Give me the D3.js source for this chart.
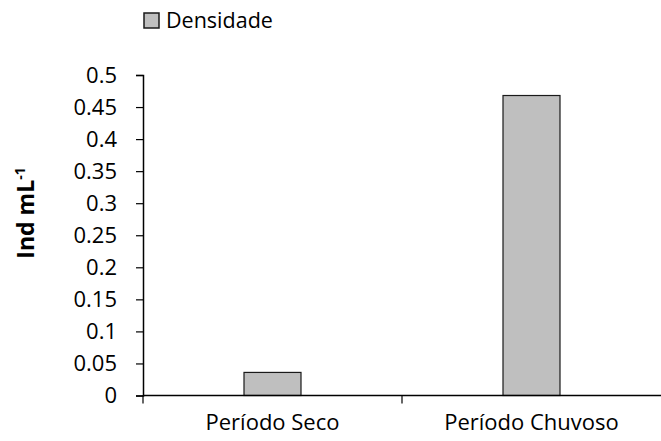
<!DOCTYPE html>
<html><head><meta charset="utf-8">
<script src="https://d3js.org/d3.v7.min.js"></script>
<style>body{margin:0;background:#fff;} text{font-family:"Open Sans", sans-serif;fill:#000;}</style>
</head><body>
<svg id="c" width="661" height="441"></svg>
<script>
const categories = ["Período Seco", "Período Chuvoso"];
const densidade = [0.036, 0.468];
const yTicks = [0, 0.05, 0.1, 0.15, 0.2, 0.25, 0.3, 0.35, 0.4, 0.45, 0.5];
const seriesName = "Densidade";

const FONT = "'Open Sans', sans-serif";
const svg = d3.select("#c");
const m = {l:143, r:661, t:75, b:395.5};
const x = d3.scaleBand().domain(categories).range([m.l, m.r]).paddingInner(0).paddingOuter(0);
const y = d3.scaleLinear().domain([0, 0.5]).range([m.b, m.t]);
const barW = 57;

svg.selectAll("rect.bar").data(densidade).enter().append("rect")
  .attr("x", (d,i) => x(categories[i]) + x.bandwidth()/2 - barW/2)
  .attr("y", d => y(d))
  .attr("width", barW)
  .attr("height", d => y(0) - y(d))
  .attr("fill", "#bfbfbf").attr("stroke", "#1a1a1a").attr("stroke-width", 1.2);

const ya = svg.append("g").attr("transform", `translate(${m.l},0)`)
  .call(d3.axisLeft(y).tickValues(yTicks).tickFormat(d => String(d)).tickSize(7).tickPadding(19));
ya.select(".domain").attr("stroke", "#000").attr("stroke-width", 1.5);
ya.selectAll(".tick line").attr("stroke", "#000").attr("stroke-width", 1.2);
ya.selectAll("text").style("font-size", "22px").style("font-family", FONT);

const xa = svg.append("g").attr("transform", `translate(0,${m.b})`)
  .call(d3.axisBottom(x).tickSize(0).tickPadding(19));
xa.select(".domain").attr("d", `M${m.l},0H${m.r}`).attr("stroke", "#000").attr("stroke-width", 1.5);
xa.selectAll("text").style("font-size", "22px").style("font-family", FONT);
const bounds = [m.l, x(categories[1])];
xa.selectAll("line.bt").data(bounds).enter().append("line")
  .attr("x1", d => d).attr("x2", d => d).attr("y1", 0).attr("y2", 8)
  .attr("stroke", "#000").attr("stroke-width", 1.2);

svg.append("text").attr("transform", "translate(34,213) rotate(-90)")
  .attr("text-anchor", "middle").style("font-size", "23px").style("font-weight", "bold")
  .html('Ind mL<tspan dy="-9" style="font-size:14px">-1</tspan>');

const lg = svg.append("g");
lg.append("rect").attr("x", 144).attr("y", 13).attr("width", 15).attr("height", 15)
  .attr("fill", "#bfbfbf").attr("stroke", "#1a1a1a").attr("stroke-width", 1.5);
lg.append("text").attr("x", 166).attr("y", 28).style("font-size", "21.5px").text(seriesName);
</script>
</body></html>
